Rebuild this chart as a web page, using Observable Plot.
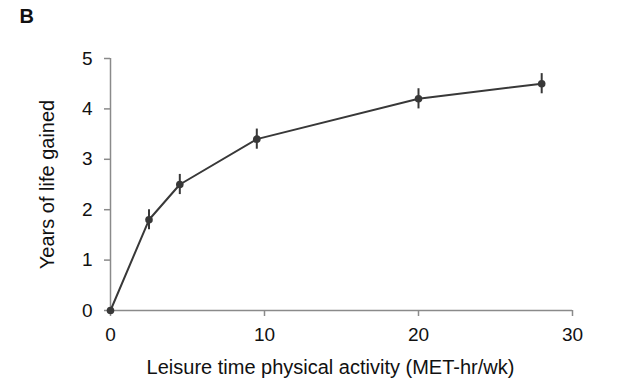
<!DOCTYPE html>
<html>
<head>
<meta charset="utf-8">
<script src="https://cdn.jsdelivr.net/npm/d3@7"></script>
<script src="https://cdn.jsdelivr.net/npm/@observablehq/plot@0.6"></script>
<style>
  html, body { margin: 0; padding: 0; background: #fff; }
  #chart svg { display: block; }
</style>
</head>
<body>
<div id="chart"></div>
<script>
const activity = [0, 2.5, 4.5, 9.5, 20, 28];
const yearsGained = [0, 1.8, 2.5, 3.4, 4.2, 4.5];
const errors = [0, 0.2, 0.2, 0.2, 0.2, 0.2];
const xTicks = [0, 10, 20, 30];
const yTicks = [0, 1, 2, 3, 4, 5];
const panelLabel = "B";
const xTitle = "Leisure time physical activity (MET-hr/wk)";
const yTitle = "Years of life gained";

const data = activity.map((x, i) => ({x, y: yearsGained[i], e: errors[i]}));
const bars = data.filter(d => d.e > 0);

const font = "Arial, 'Liberation Sans', Helvetica, sans-serif";
const axisColor = "#8a8a8a";
const ink = "#383838";

const chart = Plot.plot({
  width: 619,
  height: 390,
  marginLeft: 110,
  marginRight: 47,
  marginTop: 58,
  marginBottom: 80,
  style: {fontFamily: font, background: "#fff", color: "#111"},
  x: {domain: [0, 30]},
  y: {domain: [0, 5]},
  marks: [
    Plot.ruleY([0], {stroke: axisColor, strokeWidth: 1.5}),
    Plot.ruleX([0], {stroke: axisColor, strokeWidth: 1.5}),
    Plot.axisX({ticks: xTicks, tickFormat: d3.format("d"), tickSize: 6, tickPadding: 11, stroke: axisColor, strokeWidth: 1.5, fontSize: 19, label: null, color: "#111"}),
    Plot.axisY({ticks: yTicks, tickFormat: d3.format("d"), tickSize: 6, tickPadding: 12, stroke: axisColor, strokeWidth: 1.5, fontSize: 19, label: null, color: "#111"}),
    Plot.ruleX(bars, {x: "x", y1: d => d.y - d.e, y2: d => d.y + d.e, stroke: ink, strokeWidth: 2}),
    Plot.line(data, {x: "x", y: "y", stroke: ink, strokeWidth: 2}),
    Plot.dot(data, {x: "x", y: "y", r: 3.8, fill: ink, stroke: "none"}),
    Plot.text([xTitle], {frameAnchor: "bottom", textAnchor: "middle", lineAnchor: "middle", dx: -11, dy: 57.5, fontSize: 20, fill: "#111"}),
    Plot.text([yTitle], {frameAnchor: "left", textAnchor: "middle", lineAnchor: "middle", dx: -63, rotate: -90, fontSize: 20, fill: "#111"}),
    Plot.text([panelLabel], {frameAnchor: "top-left", textAnchor: "start", lineAnchor: "middle", dx: -91, dy: -41.5, fontSize: 20, fontWeight: "bold", fill: "#111"})
  ]
});
document.getElementById("chart").appendChild(chart);
</script>
</body>
</html>
